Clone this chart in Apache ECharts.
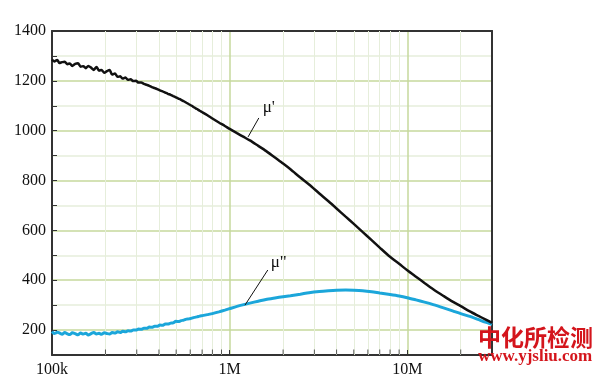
<!DOCTYPE html>
<html>
<head>
<meta charset="utf-8">
<script src="https://cdn.jsdelivr.net/npm/echarts@6/dist/echarts.min.js"></script>
<style>
html,body{margin:0;padding:0;background:#fff;}
#chart{width:596px;height:391px;}
</style>
</head>
<body>
<div id="chart"></div>
<script>
// Frequency in kHz
const freqs = [
  100,103,107,110,114,118,122,126,130,135,140,145,150,155,160,166,172,178,184,190,
  197,204,211,218,226,234,242,250,259,268,277,287,297,307,318,329,341,353,365,378,
  391,405,419,434,449,465,481,498,515,533,552,571,591,612,633,655,678,702,
  750,800,870,940,1000,1100,1200,1300,1450,1600,1800,2000,2200,2500,2800,3200,3600,
  4000,4500,5000,5600,6300,7000,8000,9000,10000,11200,12500,14000,16000,18000,20000,
  22500,25000,27500,30000
];
// μ' (real permeability)
const muReal = [
  1285,1278,1284,1272,1275,1277,1267,1270,1260,1268,1271,1257,1259,1251,1260,1253,1244,1256,1241,1244,
  1232,1239,1244,1225,1229,1216,1218,1209,1213,1204,1206,1199,1200,1193,1193,1188,1184,1180,1175,1171,
  1167,1162,1158,1153,1148,1144,1139,1134,1129,1124,1118,1112,1106,1100,1093,1087,1080,1074,
  1062,1049,1033,1019,1007,990,975,961,939,919,892,868,845,812,784,748,717,
  688,655,626,594,561,531,494,466,440,414,389,364,337,314,296,
  275,258,243,229
];
// μ'' (imaginary permeability)
const muImag = [
  194,186,191,189,183,190,185,182,189,186,181,188,184,187,180,186,190,184,187,183,
  189,186,184,190,188,193,190,195,193,197,196,200,200,204,203,207,207,212,211,215,
  215,220,219,224,224,228,229,235,234,238,240,244,245,248,251,253,256,258,
  262,266,273,280,286,295,302,308,316,323,329,334,338,344,350,355,358,
  360,361,360,358,354,349,343,337,330,321,312,302,289,277,266,
  255,243,232,223
];
const xTickLabels = {100:'100k', 1000:'1M', 10000:'10M'};
const yMin = 100, yMax = 1400, yStep = 100;
const minorFreqs = [200,300,400,500,600,700,800,900,2000,3000,4000,5000,6000,7000,8000,9000,20000];
const labelRealText = "μ'";
const labelImagText = 'μ"';
const labelRealAt = [1660, 1091];
const leaderReal = [[1460, 1051], [1270, 975]];
const labelImagAt = [1890, 473];
const leaderImag = [[1640, 441], [1220, 300]];

const majorGreen = '#c6d99c';
const minorGreen = '#e6eedb';
const serif = '"Liberation Serif", "DejaVu Serif", serif';

const chart = echarts.init(document.getElementById('chart'), null, {renderer:'canvas'});
chart.setOption({
  animation: false,
  backgroundColor: '#fff',
  grid: {left:52, right:104, top:31, bottom:36, show:false},
  xAxis: [{
    type:'log', logBase:10, min:100, max:30000,
    axisLine:{show:true, lineStyle:{color:'#333', width:2}},
    axisTick:{show:true, inside:true, length:5, lineStyle:{color:'#333', width:1}},
    axisLabel:{
      formatter: v => xTickLabels[Math.round(v)] || '',
      fontFamily: serif, fontSize:16, color:'#111', margin:7,
      showMinLabel:true, showMaxLabel:true
    },
    splitLine:{show:true, showMinLine:false, showMaxLine:false, lineStyle:{color:majorGreen, width:1.5}}
  },{
    type:'log', logBase:10, min:100, max:30000, position:'top',
    axisLine:{show:true, onZero:false, lineStyle:{color:'#333', width:2}},
    axisTick:{show:false}, axisLabel:{show:false}, splitLine:{show:false}
  }],
  yAxis: [{
    type:'value', min:yMin, max:yMax, interval:yStep,
    axisLine:{show:true, lineStyle:{color:'#333', width:2}},
    axisTick:{show:true, inside:true, length:5, lineStyle:{color:'#333', width:1}},
    axisLabel:{
      formatter: v => (v % 200 === 0 ? String(v) : ''),
      fontFamily: serif, fontSize:16, color:'#111', margin:6
    },
    splitLine:{show:true, showMinLine:false, showMaxLine:false, lineStyle:{color:[majorGreen, minorGreen], width:1.5}}
  },{
    type:'value', min:yMin, max:yMax, interval:yStep, position:'right',
    axisLine:{show:true, onZero:false, lineStyle:{color:'#333', width:2}},
    axisTick:{show:false}, axisLabel:{show:false}, splitLine:{show:false}
  }],
  series: [
    {
      type:'line', data:[], z:1, silent:true,
      markLine:{
        silent:true, z:1, symbol:['none','none'], animation:false,
        label:{show:false},
        lineStyle:{color:minorGreen, width:1, type:'solid'},
        data: minorFreqs.map(f => ({xAxis:f}))
      }
    },
    {
      type:'scatter', z:5, silent:true,
      symbol:'rect', symbolSize:[1,5], symbolOffset:[0,-3],
      itemStyle:{color:'#333'},
      data: minorFreqs.map(f => [f, yMin])
    },
    {
      name:"μ''", type:'line', z:3, showSymbol:false, symbol:'none', smooth:0.25,
      lineStyle:{color:'#1ba6da', width:3},
      data: freqs.map((f,i) => [f, muImag[i]]),
      markLine:{
        silent:true, symbol:['none','none'], label:{show:false},
        lineStyle:{color:'#111', width:1, type:'solid'},
        data:[[{coord:leaderImag[0]},{coord:leaderImag[1]}]]
      },
      markPoint:{
        silent:true, symbol:'circle', symbolSize:0,
        label:{show:true, position:'inside', formatter:labelImagText, fontFamily:serif, fontSize:17, color:'#111'},
        data:[{coord:labelImagAt}]
      }
    },
    {
      name:"μ'", type:'line', z:4, showSymbol:false, symbol:'none', smooth:0.25,
      lineStyle:{color:'#111', width:2.5},
      data: freqs.map((f,i) => [f, muReal[i]]),
      markLine:{
        silent:true, symbol:['none','none'], label:{show:false},
        lineStyle:{color:'#111', width:1, type:'solid'},
        data:[[{coord:leaderReal[0]},{coord:leaderReal[1]}]]
      },
      markPoint:{
        silent:true, symbol:'circle', symbolSize:0,
        label:{show:true, position:'inside', formatter:labelRealText, fontFamily:serif, fontSize:17, color:'#111'},
        data:[{coord:labelRealAt}]
      }
    }
  ],
  graphic: [
    {type:'text', left:478, top:326, z:100,
     style:{text:'中化所检测', fill:'#d4151c', font:'bold 23px "Noto Sans CJK SC"'}},
    {type:'text', left:478, top:348, z:100,
     style:{text:'www.yjsliu.com', fill:'#d4151c', font:'bold 17px "Liberation Serif"'}}
  ]
});
</script>
</body>
</html>
